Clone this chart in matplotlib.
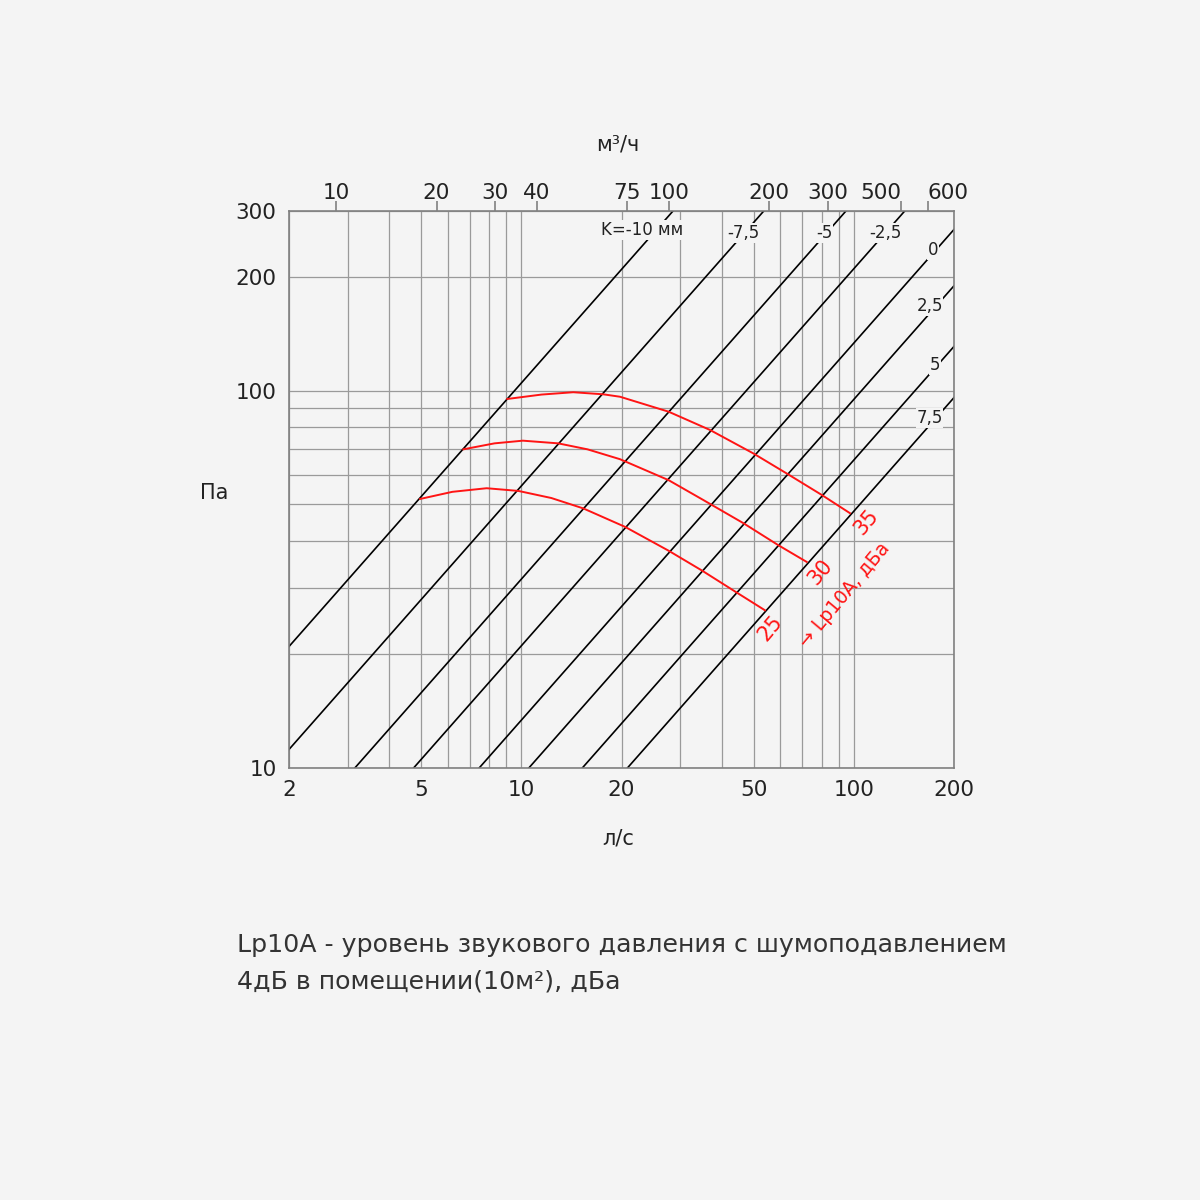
import numpy as np
import matplotlib
matplotlib.use("Agg")
import matplotlib.pyplot as plt
from matplotlib.ticker import FixedLocator, FixedFormatter, NullLocator

plt.rcParams["font.family"] = ["DejaVu Sans"]

BG = "#f4f4f4"

# K lines (mm): pressure drop in Pa at 10 l/s, lines have slope 1 in log-log
k_labels = ["K=-10 мм", "-7,5", "-5", "-2,5", "0", "2,5", "5", "7,5"]
k_p_at_10 = [105, 56, 31.7, 21.1, 13.4, 9.5, 6.56, 4.8]

# noise curves Lp10A, dBA  (flow l/s, pressure Pa)
lp25_q = [4.96, 6.2, 7.86, 9.79, 12.3, 15.35, 20.5, 27.7, 34.9, 44.4, 54.0]
lp25_p = [51.7, 54.0, 55.2, 54.3, 52.0, 48.8, 43.6, 37.7, 33.4, 29.2, 26.2]
lp30_q = [6.69, 8.3, 10.1, 12.9, 15.8, 19.8, 27.7, 35.2, 46.5, 59.2, 72.1]
lp30_p = [70.0, 72.6, 73.8, 72.6, 70.0, 65.9, 58.0, 51.4, 44.6, 39.0, 35.2]
lp35_q = [9.07, 11.5, 14.32, 17.63, 19.8, 27.7, 36.9, 49.8, 62.8, 80.0, 97.3]
lp35_p = [95.2, 97.8, 99.2, 97.95, 96.5, 88.1, 78.8, 68.3, 60.4, 53.0, 47.4]

x_major = [2, 5, 10, 20, 50, 100, 200]
x_grid = [3, 4, 6, 7, 8, 9, 30, 40, 60, 70, 80, 90]
y_major = [10, 100, 200, 300]
y_grid = [20, 30, 40, 50, 60, 70, 80, 90]
top_ticks = [10, 20, 30, 40, 75, 100, 200, 300, 500, 600]

fig = plt.figure(figsize=(12, 12), dpi=100, facecolor=BG)
ax = fig.add_axes([289 / 1200, 1 - 768 / 1200, 665 / 1200, 557 / 1200])
ax.set_facecolor(BG)
ax.set_xscale("log")
ax.set_yscale("log")
ax.set_xlim(2, 200)
ax.set_ylim(10, 300)

ax.xaxis.set_major_locator(FixedLocator(x_major))
ax.xaxis.set_major_formatter(FixedFormatter([str(v) for v in x_major]))
ax.xaxis.set_minor_locator(FixedLocator(x_grid))
ax.yaxis.set_major_locator(FixedLocator(y_major))
ax.yaxis.set_major_formatter(FixedFormatter([str(v) for v in y_major]))
ax.yaxis.set_minor_locator(FixedLocator(y_grid))
ax.xaxis.set_minor_formatter(FixedFormatter([]))
ax.yaxis.set_minor_formatter(FixedFormatter([]))
ax.grid(True, which="both", color="#9a9a9a", linewidth=0.9)
ax.tick_params(which="both", length=0, labelsize=15.5, colors="#222222")
ax.tick_params(axis="x", pad=9)
ax.tick_params(axis="y", pad=9)
for s in ax.spines.values():
    s.set_color("#808080")
    s.set_linewidth(1.2)

q = np.array([1.0, 300.0])
for p10 in k_p_at_10:
    ax.plot(q, p10 * q / 10.0, color="black", linewidth=1.2)

for qq, pp in [(lp25_q, lp25_p), (lp30_q, lp30_p), (lp35_q, lp35_p)]:
    ax.plot(qq, pp, color="#ff1414", linewidth=1.4)

# K labels, drawn over the lines
k_pos = [(0.5316, 0.9659), (0.6827, 0.9605), (0.8053, 0.9605), (0.8962, 0.9605),
         (0.9684, 0.930), (0.9632, 0.8294), (0.9714, 0.7235), (0.9632, 0.6284)]
for lab, (fx, fy) in zip(k_labels, k_pos):
    ax.text(fx, fy, lab, transform=ax.transAxes, ha="center", va="center",
            fontsize=12, color="#222222",
            bbox=dict(facecolor=BG, edgecolor="none", pad=0.5))

red_txt = [("25", 0.7233, 0.2513), ("30", 0.7985, 0.3519), ("35", 0.8677, 0.4417),
           ("→ Lp10A, дБа", 0.8353, 0.3102)]
for lab, fx, fy in red_txt:
    ax.text(fx, fy, lab, transform=ax.transAxes, ha="center", va="center",
            fontsize=15 if len(lab) == 2 else 13.5, color="#ff1414", rotation=50)

# top axis in m3/h
sec = ax.secondary_xaxis("top", functions=(lambda x: x * 3.6, lambda m: m / 3.6))
sec.xaxis.set_major_locator(FixedLocator(top_ticks))
sec.xaxis.set_major_formatter(FixedFormatter([str(v) for v in top_ticks]))
sec.xaxis.set_minor_locator(NullLocator())
sec.tick_params(direction="out", length=7, width=1.2, color="#808080",
                labelsize=15.5, labelcolor="#222222", pad=-1.5)
sec.spines["top"].set_visible(False)
# the last two labels sit close together: push them apart
fig.canvas.draw()
labels = sec.xaxis.get_majorticklabels()
labels[-2].set_horizontalalignment("right")
labels[-1].set_horizontalalignment("left")

fig.text(618 / 1200, 1 - 145 / 1200, "м³/ч", ha="center", va="center",
         fontsize=15, color="#222222")
fig.text(618 / 1200, 1 - 838 / 1200, "л/с", ha="center", va="center",
         fontsize=15, color="#222222")
fig.text(214 / 1200, 1 - 493 / 1200, "Па", ha="center", va="center",
         fontsize=15, color="#222222")

fig.text(237 / 1200, 1 - 945 / 1200,
         "Lp10A - уровень звукового давления с шумоподавлением",
         ha="left", va="center", fontsize=18.2, color="#333333")
fig.text(237 / 1200, 1 - 982 / 1200, "4дБ в помещении(10м²), дБа",
         ha="left", va="center", fontsize=18.2, color="#333333")

fig.savefig("out.png", dpi=100, facecolor=BG)
